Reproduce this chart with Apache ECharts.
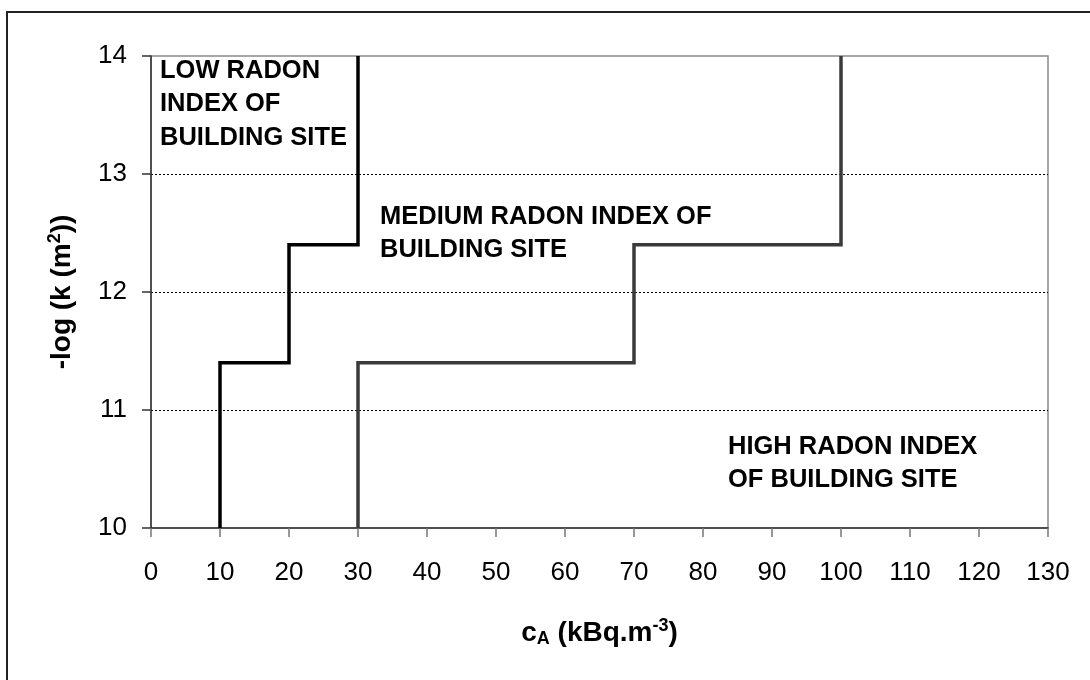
<!DOCTYPE html>
<html>
<head>
<meta charset="utf-8">
<script src="https://cdn.jsdelivr.net/npm/echarts@6/dist/echarts.min.js"></script>
<style>
html,body{margin:0;padding:0;background:#fff;}
#chart{width:1090px;height:680px;}
</style>
</head>
<body>
<div id="chart"></div>
<script>
// Boundary between LOW and MEDIUM radon index
const lowBoundaryX = [10, 10, 20, 20, 30, 30];
const lowBoundaryY = [10, 11.4, 11.4, 12.4, 12.4, 14];
// Boundary between MEDIUM and HIGH radon index
const highBoundaryX = [30, 30, 70, 70, 100, 100];
const highBoundaryY = [10, 11.4, 11.4, 12.4, 12.4, 14];
// Axis ranges
const xTicks = [0, 10, 20, 30, 40, 50, 60, 70, 80, 90, 100, 110, 120, 130];
const yTicks = [10, 11, 12, 13, 14];
// Region labels
const regionLabels = [
  'LOW RADON\nINDEX OF\nBUILDING SITE',
  'MEDIUM RADON INDEX OF\nBUILDING SITE',
  'HIGH RADON INDEX\nOF BUILDING SITE'
];

const font = '"Liberation Sans", Arial, sans-serif';
const pair = (xs, ys) => xs.map((x, i) => [x, ys[i]]);

const chart = echarts.init(document.getElementById('chart'), null, {renderer: 'canvas'});
const labelStyle = {fontFamily: font, fontWeight: 'bold', fontSize: 25.5, fill: '#000', lineHeight: 33.5};

chart.setOption({
  animation: false,
  backgroundColor: '#fff',
  grid: {left: 151, right: 42, top: 56, bottom: 152, show: true, borderColor: '#8a8a8a', borderWidth: 1.5, backgroundColor: 'transparent'},
  xAxis: {
    type: 'value', min: xTicks[0], max: xTicks[xTicks.length - 1], interval: 10,
    axisLine: {show: true, onZero: false, lineStyle: {color: '#333', width: 1.5}},
    axisTick: {show: true, length: 9, lineStyle: {color: '#777', width: 1.5}},
    axisLabel: {fontFamily: font, fontSize: 26, color: '#000', margin: 32},
    splitLine: {show: false},
    name: '{n|c}{sub|A}{n| (kBq.m}{sup|-3}{n|)}',
    nameLocation: 'middle', nameGap: 87,
    nameTextStyle: {
      rich: {
        n: {fontFamily: font, fontWeight: 'bold', fontSize: 28, color: '#000', lineHeight: 36},
        sub: {fontFamily: font, fontWeight: 'bold', fontSize: 18, color: '#000', padding: [12, 0, 0, 0], lineHeight: 36},
        sup: {fontFamily: font, fontWeight: 'bold', fontSize: 18, color: '#000', padding: [0, 0, 14, 0], lineHeight: 36}
      }
    }
  },
  yAxis: {
    type: 'value', min: yTicks[0], max: yTicks[yTicks.length - 1], interval: 1,
    axisLine: {show: true, onZero: false, lineStyle: {color: '#333', width: 1.5}},
    axisTick: {show: true, length: 9, lineStyle: {color: '#333', width: 1.5}},
    axisLabel: {fontFamily: font, fontSize: 26, color: '#000', margin: 24},
    splitLine: {show: true, showMinLine: false, showMaxLine: false, lineStyle: {color: '#000', width: 1, type: [2, 2]}},
    name: '{n|-log (k (m}{sup|2}{n|))}',
    nameLocation: 'middle', nameGap: 71,
    nameTextStyle: {
      rich: {
        n: {fontFamily: font, fontWeight: 'bold', fontSize: 28, color: '#000', lineHeight: 36},
        sup: {fontFamily: font, fontWeight: 'bold', fontSize: 18, color: '#000', padding: [0, 0, 14, 0], lineHeight: 36}
      }
    }
  },
  series: [
    {type: 'line', data: pair(lowBoundaryX, lowBoundaryY), symbol: 'none', lineStyle: {color: '#000', width: 3.5, join: 'miter', cap: 'butt'}, z: 5},
    {type: 'line', data: pair(highBoundaryX, highBoundaryY), symbol: 'none', lineStyle: {color: '#3a3a3a', width: 3.5, join: 'miter', cap: 'butt'}, z: 4}
  ],
  graphic: [
    {type: 'rect', shape: {x: 7, y: 12, width: 1200, height: 800}, style: {fill: 'none', stroke: '#222', lineWidth: 2}, z: -10, silent: true},
    {type: 'text', x: 160, y: 54, style: Object.assign({text: regionLabels[0]}, labelStyle), z: 10},
    {type: 'text', x: 380, y: 200, style: Object.assign({text: regionLabels[1]}, labelStyle), z: 10},
    {type: 'text', x: 728, y: 430, style: Object.assign({text: regionLabels[2]}, labelStyle), z: 10}
  ]
});
</script>
</body>
</html>
